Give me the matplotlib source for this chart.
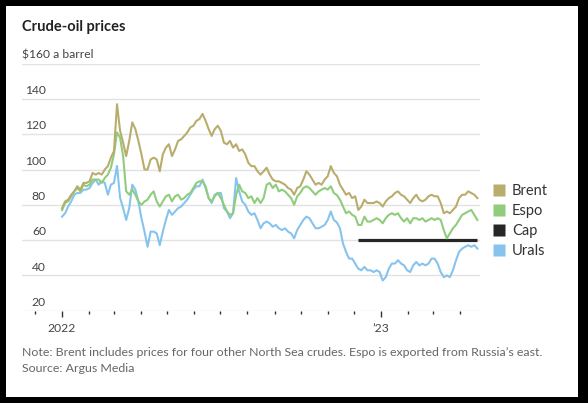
import pandas as pd
import matplotlib
matplotlib.use("Agg")
import matplotlib.pyplot as plt
import matplotlib.dates as mdates
from matplotlib.patches import Rectangle
from matplotlib.lines import Line2D
from matplotlib.transforms import blended_transform_factory

plt.rcParams['font.family'] = ['Lato', 'DejaVu Sans']

##########
## DATA ##
##########
# twice-weekly readings, 1 Jan 2022 -> 21 Apr 2023, $ a barrel
brent = [78.1, 81.9, 82.9, 85.7, 87.6, 90.5, 88.6, 92.4, 92.4, 93.3,
         98, 97.1, 98, 97.1, 100, 101.9, 106.7, 110.5, 137, 122,
         115.2, 107.6, 116.2, 126.7, 122.9, 116.2, 108.6, 100, 100, 105.7,
         106.7, 105.7, 99, 108.6, 112.4, 114.3, 107.6, 111.4, 116.2, 117.1,
         119, 121, 123.8, 124.8, 127.6, 128.6, 131.5, 127.6, 122.9, 119,
         122.9, 124.8, 121.9, 115.2, 114.3, 116.2, 112.4, 114.3, 110.5, 111.4,
         108.6, 103.8, 101.9, 101.9, 99, 97.1, 99, 101, 97.1, 94.3,
         93.3, 93.3, 92.4, 91.4, 89.5, 88.6, 85.7, 89.5, 90.5, 94.3,
         99, 97.1, 94.3, 91.4, 92.4, 91.4, 94.3, 96.2, 101.9, 98.1,
         96.2, 91.4, 88.6, 85.7, 86.7, 83.8, 84.8, 77.1, 79, 82.9,
         81, 81, 81, 81.9, 81, 79, 81.9, 83.8, 84.8, 86.7,
         87.6, 85.7, 84.8, 82.9, 81, 83.8, 85.7, 82.9, 81.9, 82.9,
         84.8, 85.7, 84.8, 84.8, 81, 75.2, 76.2, 75.2, 77.1, 79,
         83.8, 85.7, 85.7, 87.6, 86.7, 85.7, 83.8]
espo = [77, 81, 82, 84.8, 87.6, 89.5, 87.6, 91.4, 90.5, 91.4,
        94.3, 94.3, 94.3, 92.4, 95.2, 97.1, 101, 108.6, 121, 118,
        107.6, 87.6, 85.7, 88.6, 85.7, 81.9, 80, 81.9, 82.9, 85.7,
        87.6, 81.9, 79, 81.9, 84.8, 85.7, 81.9, 84.8, 85.7, 82.9,
        83.8, 85.7, 86.7, 89.5, 92.4, 93.3, 93.3, 90.5, 83.8, 81.9,
        84.8, 86.7, 83.8, 80, 76.2, 74.3, 75.2, 85.7, 91.4, 87.6,
        86.7, 83.8, 84.8, 81, 83.8, 81, 83.8, 91.4, 92.4, 89.5,
        91.4, 87.6, 88.6, 87.6, 85.7, 83.8, 80, 84.8, 86.7, 89.5,
        90.5, 89.5, 87.6, 85.7, 87.6, 88.6, 89.5, 88.6, 90.5, 86.7,
        85.5, 82.9, 79, 75.2, 76.2, 74.3, 73.3, 68.6, 68.6, 73.3,
        70.5, 70.5, 71.4, 72.4, 71.4, 69.5, 72.4, 74.3, 75.2, 74.3,
        75.2, 72.4, 70.5, 72.4, 69.5, 72.4, 72.4, 71.4, 72.4, 70.5,
        71.4, 72.4, 71.4, 72.4, 71.4, 65.7, 61, 63.8, 66.7, 68.6,
        71.4, 74.3, 75.2, 76.2, 77.1, 74.3, 71.4]
urals = [73.3, 75.2, 79, 81.9, 85.7, 86.7, 86.7, 88.6, 88.6, 89.5,
         92.4, 94.3, 91.4, 93.3, 92.4, 85.7, 91.4, 92.4, 102, 84,
         78.1, 71.4, 78.1, 91.4, 88.6, 81.9, 72.4, 64.8, 56.2, 64.8,
         64.8, 63.8, 57.1, 64.8, 71.4, 77.1, 74.3, 76.2, 78.1, 79,
         81, 82.9, 85.7, 88.6, 90.5, 90.5, 94.3, 89.5, 83.8, 81,
         85.7, 86.7, 86.7, 78.1, 76.2, 72.4, 75.2, 95.2, 87.6, 81.9,
         80, 76.2, 74.3, 75.2, 71.4, 66.7, 69.5, 70.5, 69.5, 67.6,
         68.6, 66.7, 65.7, 66.7, 64.8, 63.8, 61, 65.7, 68.6, 71.4,
         73.3, 72.4, 69.5, 66.7, 66.7, 67.6, 68.6, 71.4, 76.2, 71.4,
         70, 66.7, 58.1, 53.3, 49.5, 49.5, 46.7, 43.8, 42.9, 44.8,
         42.9, 42.9, 41.9, 42.9, 41.9, 37.1, 39, 43.8, 46.7, 46.7,
         48.6, 46.7, 45.7, 42.9, 41.9, 45.7, 47.6, 45.7, 46.7, 45.7,
         46.7, 49.5, 49.5, 46.7, 41.9, 39, 40, 39, 42.9, 48.6,
         53.3, 55.2, 56.2, 57.1, 56.2, 57.1, 55.2]
dates = pd.date_range("2022-01-01", "2023-04-21", periods=len(brent))

capDates = pd.to_datetime(["2022-12-05", "2023-04-21"])
capValues = [60, 60]

yTicks = [20, 40, 60, 80, 100, 120, 140, 160]
seriesNames = ["Brent", "Espo", "Cap", "Urals"]
seriesColors = ["#b9ad6e", "#8fcd7b", "#262626", "#86c4ee"]

W, H = 588, 403

###################
## FIGURE & AXES ##
###################
fig = plt.figure(figsize=(W / 100, H / 100), dpi=100, facecolor="black")
fig.patches.append(Rectangle((6 / W, 6 / H), 572 / W, 391 / H, transform=fig.transFigure,
                             facecolor="white", edgecolor="none", zorder=-10))

ax = fig.add_axes([22 / W, 92.3 / H, 458 / W, 247.1 / H])
ax.set_facecolor("none")

x0 = mdates.date2num(pd.Timestamp("2022-01-01"))
ax.set_xlim(x0 - 45.8, x0 + 478)
ax.set_ylim(20, 160)

for s in ax.spines.values():
    s.set_visible(False)

ax.set_yticks(yTicks)
ax.grid(axis="y", color="#e2e2e2", linewidth=1)
ax.tick_params(axis="y", length=0, labelleft=False)

# y labels sit above the gridlines on the left
trans = blended_transform_factory(ax.transAxes, ax.transData)
for t in yTicks:
    if t == 160:
        ax.text(0, t + 1.6, "$160 a barrel", transform=trans, ha="left", va="bottom",
                fontsize=8.7, color="#444")
    else:
        ax.text(24 / 458, t + 1.6, str(t), transform=trans, ha="right", va="bottom",
                fontsize=8.7, color="#444")

ax.xaxis.set_minor_locator(mdates.MonthLocator())
ax.set_xticks(pd.to_datetime(["2022-01-01", "2023-01-01"]))
ax.set_xticklabels(["2022", "\u201923"])
ax.tick_params(axis="x", which="major", length=4, width=1, color="#333",
               labelsize=8.7, labelcolor="#444", pad=5)
ax.tick_params(axis="x", which="minor", length=2.2, width=1, color="#333")

###########
## LINES ##
###########
ax.plot(capDates, capValues, color=seriesColors[2], linewidth=2.3, solid_capstyle="butt", zorder=2)
ax.plot(dates, urals, color=seriesColors[3], linewidth=1.5, zorder=3)
ax.plot(dates, espo, color=seriesColors[1], linewidth=1.5, zorder=4)
ax.plot(dates, brent, color=seriesColors[0], linewidth=1.5, zorder=5)

############
## LEGEND ##
############
handles = [Line2D([], [], marker="s", linestyle="none", markersize=8.5,
                  markerfacecolor=c, markeredgecolor="none") for c in seriesColors]
fig.legend(handles, seriesNames, loc="center left", bbox_to_anchor=(490 / W, 1 - 221 / H),
           frameon=False, fontsize=10.5, labelcolor="#333", handletextpad=0.3,
           labelspacing=0.42, borderaxespad=0, borderpad=0, handlelength=1.2)

###########
## TEXTS ##
###########
fig.text(22 / W, 1 - 27 / H, "Crude-oil prices", fontsize=10.5, fontweight="bold",
         color="#222", ha="left", va="center")
fig.text(22 / W, 1 - 352 / H,
         "Note: Brent includes prices for four other North Sea crudes. Espo is exported from Russia\u2019s east.",
         fontsize=8.9, color="#666", ha="left", va="center")
fig.text(22 / W, 1 - 369 / H, "Source: Argus Media", fontsize=8.9, color="#666",
         ha="left", va="center")

fig.savefig("out.png", dpi=100, facecolor=fig.get_facecolor())
